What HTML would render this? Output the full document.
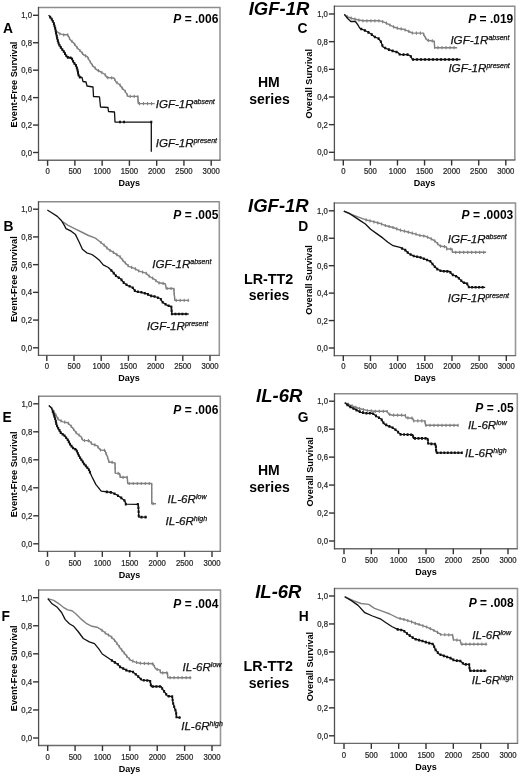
<!DOCTYPE html>
<html><head><meta charset="utf-8"><style>
html,body{margin:0;padding:0;background:#fff;width:520px;height:776px;overflow:hidden}
svg{display:block;font-family:"Liberation Sans", sans-serif;filter:grayscale(1) blur(0.3px)}
</style></head><body>
<svg width="520" height="776" viewBox="0 0 520 776">
<rect width="520" height="776" fill="#fff"/>
<line x1="37.90" y1="7.50" x2="220.60" y2="7.50" stroke="#8c8c8c" stroke-width="1.5"/>
<line x1="220.00" y1="7.50" x2="220.00" y2="160.30" stroke="#979797" stroke-width="1.6"/>
<line x1="37.90" y1="160.30" x2="220.60" y2="160.30" stroke="#6a6a6a" stroke-width="1.4"/>
<line x1="38.50" y1="6.90" x2="38.50" y2="160.90" stroke="#505050" stroke-width="1.3"/>
<line x1="33.00" y1="152.50" x2="38.50" y2="152.50" stroke="#333" stroke-width="1.4"/>
<text transform="translate(32.00,155.50) scale(0.9,1)" font-size="8.6" text-anchor="end" fill="#2a2a2a" stroke="#2a2a2a" stroke-width="0.25">0,0</text>
<line x1="33.00" y1="125.06" x2="38.50" y2="125.06" stroke="#333" stroke-width="1.4"/>
<text transform="translate(32.00,128.06) scale(0.9,1)" font-size="8.6" text-anchor="end" fill="#2a2a2a" stroke="#2a2a2a" stroke-width="0.25">0,2</text>
<line x1="33.00" y1="97.62" x2="38.50" y2="97.62" stroke="#333" stroke-width="1.4"/>
<text transform="translate(32.00,100.62) scale(0.9,1)" font-size="8.6" text-anchor="end" fill="#2a2a2a" stroke="#2a2a2a" stroke-width="0.25">0,4</text>
<line x1="33.00" y1="70.18" x2="38.50" y2="70.18" stroke="#333" stroke-width="1.4"/>
<text transform="translate(32.00,73.18) scale(0.9,1)" font-size="8.6" text-anchor="end" fill="#2a2a2a" stroke="#2a2a2a" stroke-width="0.25">0,6</text>
<line x1="33.00" y1="42.74" x2="38.50" y2="42.74" stroke="#333" stroke-width="1.4"/>
<text transform="translate(32.00,45.74) scale(0.9,1)" font-size="8.6" text-anchor="end" fill="#2a2a2a" stroke="#2a2a2a" stroke-width="0.25">0,8</text>
<line x1="33.00" y1="15.30" x2="38.50" y2="15.30" stroke="#333" stroke-width="1.4"/>
<text transform="translate(32.00,18.30) scale(0.9,1)" font-size="8.6" text-anchor="end" fill="#2a2a2a" stroke="#2a2a2a" stroke-width="0.25">1,0</text>
<line x1="47.60" y1="160.30" x2="47.60" y2="165.80" stroke="#333" stroke-width="1.4"/>
<text transform="translate(47.60,174.00) scale(0.9,1)" font-size="8.6" text-anchor="middle" fill="#2a2a2a" stroke="#2a2a2a" stroke-width="0.25">0</text>
<line x1="74.87" y1="160.30" x2="74.87" y2="165.80" stroke="#333" stroke-width="1.4"/>
<text transform="translate(74.87,174.00) scale(0.9,1)" font-size="8.6" text-anchor="middle" fill="#2a2a2a" stroke="#2a2a2a" stroke-width="0.25">500</text>
<line x1="102.13" y1="160.30" x2="102.13" y2="165.80" stroke="#333" stroke-width="1.4"/>
<text transform="translate(102.13,174.00) scale(0.9,1)" font-size="8.6" text-anchor="middle" fill="#2a2a2a" stroke="#2a2a2a" stroke-width="0.25">1000</text>
<line x1="129.40" y1="160.30" x2="129.40" y2="165.80" stroke="#333" stroke-width="1.4"/>
<text transform="translate(129.40,174.00) scale(0.9,1)" font-size="8.6" text-anchor="middle" fill="#2a2a2a" stroke="#2a2a2a" stroke-width="0.25">1500</text>
<line x1="156.67" y1="160.30" x2="156.67" y2="165.80" stroke="#333" stroke-width="1.4"/>
<text transform="translate(156.67,174.00) scale(0.9,1)" font-size="8.6" text-anchor="middle" fill="#2a2a2a" stroke="#2a2a2a" stroke-width="0.25">2000</text>
<line x1="183.93" y1="160.30" x2="183.93" y2="165.80" stroke="#333" stroke-width="1.4"/>
<text transform="translate(183.93,174.00) scale(0.9,1)" font-size="8.6" text-anchor="middle" fill="#2a2a2a" stroke="#2a2a2a" stroke-width="0.25">2500</text>
<line x1="211.20" y1="160.30" x2="211.20" y2="165.80" stroke="#333" stroke-width="1.4"/>
<text transform="translate(211.20,174.00) scale(0.9,1)" font-size="8.6" text-anchor="middle" fill="#2a2a2a" stroke="#2a2a2a" stroke-width="0.25">3000</text>
<text x="129.25" y="186.00" font-size="9" font-weight="bold" text-anchor="middle" fill="#000">Days</text>
<text transform="translate(16.70,84.50) rotate(-90)" x="0" y="0" font-size="9.2" font-weight="bold" text-anchor="middle" fill="#000">Event-Free Survival</text>
<text x="218.40" y="22.89" font-size="12" font-weight="bold" text-anchor="end" fill="#000"><tspan font-style="italic">P</tspan> = .006</text>
<path d="M56.7,31.3 L59.6,33.7 L63.6,34.8 L67.7,34.8 L70.0,39.4 L74.0,43.5 L77.5,48.1 L80.9,51.5 L83.8,55.0 L87.3,56.7 L89.6,60.8 L92.5,65.4 L97.0,70.0 L101.0,72.0 L105.0,74.5 L107.0,77.5 L114.0,78.0 L116.0,82.0 L120.0,85.0 L122.0,88.0 L125.0,91.0 L127.0,94.5 L128.0,96.4 L137.8,96.4 L138.3,103.6 L154.7,103.6" fill="none" stroke="#808080" stroke-width="1.4" stroke-linejoin="round"/>
<path d="M59.8,32.2v3.2 M63.7,33.2v3.2 M67.7,33.2v3.2 M69.5,36.8v3.2 M72.0,39.8v3.2 M74.7,42.8v3.2 M77.1,46.0v3.2 M79.9,48.9v3.2 M82.5,51.8v3.2 M85.6,54.3v3.2 M88.3,56.9v3.2 M90.3,60.4v3.2 M92.5,63.8v3.2 M95.3,66.6v3.2 M98.4,69.1v3.2 M101.9,71.0v3.2 M105.2,73.2v3.2 M107.7,76.0v3.2 M111.7,76.2v3.2 M114.8,77.9v3.2 M117.0,81.1v3.2 M120.1,83.6v3.2 M122.4,86.8v3.2 M125.2,89.7v3.2 M127.2,93.2v3.2 M130.2,94.8v3.2 M134.2,94.8v3.2 M137.8,95.2v3.2 M138.1,99.2v3.2 M139.5,102.0v3.2 M143.5,102.0v3.2 M147.5,102.0v3.2 M151.5,102.0v3.2" stroke="#808080" stroke-width="1.1" fill="none"/>
<path d="M48.6,15.2 L51.5,18.7 L53.8,23.3 L55.5,29.6 L56.1,33.1 L57.3,38.8 L59.0,44.6 L61.3,48.1 L64.2,52.1 L67.1,57.3 L71.7,57.9 L73.4,61.9 L76.3,66.0 L77.5,70.0 L78.5,75.0 L79.5,77.0 L82.0,77.5 L83.0,81.5 L86.0,82.0 L87.0,86.0 L93.0,87.0 L93.5,96.5 L99.5,96.8 L100.0,102.0 L100.5,107.0 L108.0,107.5 L108.5,111.5 L114.5,112.0 L115.0,122.0 L151.3,122.1 L151.3,151.7" fill="none" stroke="#111" stroke-width="1.3" stroke-linejoin="round"/>
<path d="M49.2,15.8h2v2.6h-2z M50.7,17.8h2v2.6h-2z M51.8,20.0h2v2.6h-2z M52.9,22.3h2v2.6h-2z M53.5,24.7h2v2.6h-2z M54.2,27.1h2v2.6h-2z M54.7,29.6h2v2.6h-2z M55.1,32.0h2v2.6h-2z M55.7,34.5h2v2.6h-2z M56.2,36.9h2v2.6h-2z M56.8,39.3h2v2.6h-2z M57.5,41.7h2v2.6h-2z M58.5,44.0h2v2.6h-2z M59.8,46.1h2v2.6h-2z M61.3,48.2h2v2.6h-2z M62.8,50.2h2v2.6h-2z M64.0,52.3h2v2.6h-2z M65.3,54.5h2v2.6h-2z M66.9,56.1h2v2.6h-2z M69.4,56.4h2v2.6h-2z M71.1,57.7h2v2.6h-2z M72.1,60.0h2v2.6h-2z M73.4,62.1h2v2.6h-2z M74.9,64.1h2v2.6h-2z M75.8,66.4h2v2.6h-2z M76.5,68.8h2v2.6h-2z M77.0,71.2h2v2.6h-2z M77.5,73.7h2v2.6h-2z M78.8,75.8h2v2.6h-2z M119.0,120.7h2v2.6h-2z M123.0,120.7h2v2.6h-2z M150.3,120.7h2v2.6h-2z" fill="#111"/>
<text x="155.70" y="108.20" font-size="11.6" font-style="italic" fill="#111" stroke="#111" stroke-width="0.25">IGF-1R<tspan font-size="7" dy="-4">absent</tspan></text>
<text x="155.70" y="147.20" font-size="11.6" font-style="italic" fill="#111" stroke="#111" stroke-width="0.25">IGF-1R<tspan font-size="7" dy="-4">present</tspan></text>
<line x1="37.90" y1="201.80" x2="219.90" y2="201.80" stroke="#8c8c8c" stroke-width="1.5"/>
<line x1="219.30" y1="201.80" x2="219.30" y2="355.40" stroke="#979797" stroke-width="1.6"/>
<line x1="37.90" y1="355.40" x2="219.90" y2="355.40" stroke="#6a6a6a" stroke-width="1.4"/>
<line x1="38.50" y1="201.20" x2="38.50" y2="356.00" stroke="#505050" stroke-width="1.3"/>
<line x1="33.00" y1="347.80" x2="38.50" y2="347.80" stroke="#333" stroke-width="1.4"/>
<text transform="translate(32.00,350.80) scale(0.9,1)" font-size="8.6" text-anchor="end" fill="#2a2a2a" stroke="#2a2a2a" stroke-width="0.25">0,0</text>
<line x1="33.00" y1="320.08" x2="38.50" y2="320.08" stroke="#333" stroke-width="1.4"/>
<text transform="translate(32.00,323.08) scale(0.9,1)" font-size="8.6" text-anchor="end" fill="#2a2a2a" stroke="#2a2a2a" stroke-width="0.25">0,2</text>
<line x1="33.00" y1="292.36" x2="38.50" y2="292.36" stroke="#333" stroke-width="1.4"/>
<text transform="translate(32.00,295.36) scale(0.9,1)" font-size="8.6" text-anchor="end" fill="#2a2a2a" stroke="#2a2a2a" stroke-width="0.25">0,4</text>
<line x1="33.00" y1="264.64" x2="38.50" y2="264.64" stroke="#333" stroke-width="1.4"/>
<text transform="translate(32.00,267.64) scale(0.9,1)" font-size="8.6" text-anchor="end" fill="#2a2a2a" stroke="#2a2a2a" stroke-width="0.25">0,6</text>
<line x1="33.00" y1="236.92" x2="38.50" y2="236.92" stroke="#333" stroke-width="1.4"/>
<text transform="translate(32.00,239.92) scale(0.9,1)" font-size="8.6" text-anchor="end" fill="#2a2a2a" stroke="#2a2a2a" stroke-width="0.25">0,8</text>
<line x1="33.00" y1="209.20" x2="38.50" y2="209.20" stroke="#333" stroke-width="1.4"/>
<text transform="translate(32.00,212.20) scale(0.9,1)" font-size="8.6" text-anchor="end" fill="#2a2a2a" stroke="#2a2a2a" stroke-width="0.25">1,0</text>
<line x1="46.80" y1="355.40" x2="46.80" y2="360.90" stroke="#333" stroke-width="1.4"/>
<text transform="translate(46.80,369.26) scale(0.9,1)" font-size="8.6" text-anchor="middle" fill="#2a2a2a" stroke="#2a2a2a" stroke-width="0.25">0</text>
<line x1="74.00" y1="355.40" x2="74.00" y2="360.90" stroke="#333" stroke-width="1.4"/>
<text transform="translate(74.00,369.26) scale(0.9,1)" font-size="8.6" text-anchor="middle" fill="#2a2a2a" stroke="#2a2a2a" stroke-width="0.25">500</text>
<line x1="101.20" y1="355.40" x2="101.20" y2="360.90" stroke="#333" stroke-width="1.4"/>
<text transform="translate(101.20,369.26) scale(0.9,1)" font-size="8.6" text-anchor="middle" fill="#2a2a2a" stroke="#2a2a2a" stroke-width="0.25">1000</text>
<line x1="128.40" y1="355.40" x2="128.40" y2="360.90" stroke="#333" stroke-width="1.4"/>
<text transform="translate(128.40,369.26) scale(0.9,1)" font-size="8.6" text-anchor="middle" fill="#2a2a2a" stroke="#2a2a2a" stroke-width="0.25">1500</text>
<line x1="155.60" y1="355.40" x2="155.60" y2="360.90" stroke="#333" stroke-width="1.4"/>
<text transform="translate(155.60,369.26) scale(0.9,1)" font-size="8.6" text-anchor="middle" fill="#2a2a2a" stroke="#2a2a2a" stroke-width="0.25">2000</text>
<line x1="182.80" y1="355.40" x2="182.80" y2="360.90" stroke="#333" stroke-width="1.4"/>
<text transform="translate(182.80,369.26) scale(0.9,1)" font-size="8.6" text-anchor="middle" fill="#2a2a2a" stroke="#2a2a2a" stroke-width="0.25">2500</text>
<line x1="210.00" y1="355.40" x2="210.00" y2="360.90" stroke="#333" stroke-width="1.4"/>
<text transform="translate(210.00,369.26) scale(0.9,1)" font-size="8.6" text-anchor="middle" fill="#2a2a2a" stroke="#2a2a2a" stroke-width="0.25">3000</text>
<text x="128.90" y="381.30" font-size="9" font-weight="bold" text-anchor="middle" fill="#000">Days</text>
<text transform="translate(16.70,279.20) rotate(-90)" x="0" y="0" font-size="9.2" font-weight="bold" text-anchor="middle" fill="#000">Event-Free Survival</text>
<text x="218.40" y="218.69" font-size="12" font-weight="bold" text-anchor="end" fill="#000"><tspan font-style="italic">P</tspan> = .005</text>
<path d="M62.5,221.6 L67.7,225.1 L74.6,228.6 L81.5,232.0 L88.5,235.5 L95.4,238.1 L99.7,241.5 L104.0,245.0 L108.4,249.3 L112.7,251.9 L117.9,255.4 L120.0,256.7 L123.8,261.5 L128.7,266.3 L134.4,268.3 L139.2,271.2 L146.0,273.1 L148.8,276.0 L153.7,278.8 L158.5,282.7 L165.2,283.7 L166.2,288.5 L173.8,288.5 L174.8,300.4 L189.2,300.4" fill="none" stroke="#808080" stroke-width="1.4" stroke-linejoin="round"/>
<path d="M101.0,240.9v3.2 M104.1,243.5v3.2 M106.9,246.2v3.2 M110.0,248.7v3.2 M113.4,250.8v3.2 M116.8,253.0v3.2 M120.1,255.2v3.2 M122.6,258.4v3.2 M125.3,261.3v3.2 M128.1,264.1v3.2 M131.7,265.8v3.2 M135.4,267.3v3.2 M138.8,269.4v3.2 M142.6,270.6v3.2 M146.3,271.8v3.2 M149.2,274.6v3.2 M152.7,276.6v3.2 M155.9,279.0v3.2 M159.1,281.2v3.2 M163.1,281.8v3.2 M165.6,283.9v3.2 M167.1,286.9v3.2 M171.1,286.9v3.2 M173.9,288.2v3.2 M174.2,292.2v3.2 M174.6,296.2v3.2 M176.2,298.8v3.2 M180.2,298.8v3.2 M184.2,298.8v3.2 M188.2,298.8v3.2" stroke="#808080" stroke-width="1.1" fill="none"/>
<path d="M47.3,210.0 L52.1,213.0 L57.3,216.4 L61.6,220.8 L64.2,225.1 L66.0,228.6 L71.2,231.2 L75.5,234.6 L78.9,241.5 L82.4,249.3 L86.7,252.8 L91.9,254.5 L95.4,257.1 L99.7,260.6 L103.2,264.9 L108.4,267.5 L112.7,271.8 L116.2,276.1 L120.5,278.7 L123.8,282.7 L127.7,285.6 L132.5,287.5 L135.4,291.3 L141.2,292.3 L146.9,293.8 L150.8,295.8 L154.6,296.5 L160.4,298.5 L162.3,301.9 L166.2,304.8 L169.0,306.0 L171.3,306.3 L171.8,314.0 L188.7,314.0" fill="none" stroke="#111" stroke-width="1.3" stroke-linejoin="round"/>
<path d="M110.4,269.2h2v2.6h-2z M112.7,271.8h2v2.6h-2z M114.9,274.5h2v2.6h-2z M117.8,276.4h2v2.6h-2z M120.5,278.6h2v2.6h-2z M122.7,281.3h2v2.6h-2z M125.5,283.4h2v2.6h-2z M128.6,285.0h2v2.6h-2z M131.7,286.5h2v2.6h-2z M133.8,289.3h2v2.6h-2z M136.9,290.4h2v2.6h-2z M140.4,291.0h2v2.6h-2z M143.8,291.9h2v2.6h-2z M147.0,293.1h2v2.6h-2z M150.2,294.6h2v2.6h-2z M153.6,295.2h2v2.6h-2z M156.9,296.4h2v2.6h-2z M159.8,298.0h2v2.6h-2z M161.7,300.9h2v2.6h-2z M164.5,303.0h2v2.6h-2z M167.6,304.5h2v2.6h-2z M170.4,305.8h2v2.6h-2z M170.6,309.3h2v2.6h-2z M170.9,312.7h2v2.6h-2z M174.4,312.7h2v2.6h-2z M177.9,312.7h2v2.6h-2z M181.4,312.7h2v2.6h-2z M184.9,312.7h2v2.6h-2z" fill="#111"/>
<text x="152.30" y="268.30" font-size="11.6" font-style="italic" fill="#111" stroke="#111" stroke-width="0.25">IGF-1R<tspan font-size="7" dy="-4">absent</tspan></text>
<text x="146.90" y="329.80" font-size="11.6" font-style="italic" fill="#111" stroke="#111" stroke-width="0.25">IGF-1R<tspan font-size="7" dy="-4">present</tspan></text>
<line x1="38.10" y1="396.30" x2="220.90" y2="396.30" stroke="#8c8c8c" stroke-width="1.5"/>
<line x1="220.30" y1="396.30" x2="220.30" y2="551.40" stroke="#979797" stroke-width="1.6"/>
<line x1="38.10" y1="551.40" x2="220.90" y2="551.40" stroke="#6a6a6a" stroke-width="1.4"/>
<line x1="38.70" y1="395.70" x2="38.70" y2="552.00" stroke="#505050" stroke-width="1.3"/>
<line x1="33.20" y1="543.80" x2="38.70" y2="543.80" stroke="#333" stroke-width="1.4"/>
<text transform="translate(32.20,546.80) scale(0.9,1)" font-size="8.6" text-anchor="end" fill="#2a2a2a" stroke="#2a2a2a" stroke-width="0.25">0,0</text>
<line x1="33.20" y1="515.80" x2="38.70" y2="515.80" stroke="#333" stroke-width="1.4"/>
<text transform="translate(32.20,518.80) scale(0.9,1)" font-size="8.6" text-anchor="end" fill="#2a2a2a" stroke="#2a2a2a" stroke-width="0.25">0,2</text>
<line x1="33.20" y1="487.80" x2="38.70" y2="487.80" stroke="#333" stroke-width="1.4"/>
<text transform="translate(32.20,490.80) scale(0.9,1)" font-size="8.6" text-anchor="end" fill="#2a2a2a" stroke="#2a2a2a" stroke-width="0.25">0,4</text>
<line x1="33.20" y1="459.80" x2="38.70" y2="459.80" stroke="#333" stroke-width="1.4"/>
<text transform="translate(32.20,462.80) scale(0.9,1)" font-size="8.6" text-anchor="end" fill="#2a2a2a" stroke="#2a2a2a" stroke-width="0.25">0,6</text>
<line x1="33.20" y1="431.80" x2="38.70" y2="431.80" stroke="#333" stroke-width="1.4"/>
<text transform="translate(32.20,434.80) scale(0.9,1)" font-size="8.6" text-anchor="end" fill="#2a2a2a" stroke="#2a2a2a" stroke-width="0.25">0,8</text>
<line x1="33.20" y1="403.80" x2="38.70" y2="403.80" stroke="#333" stroke-width="1.4"/>
<text transform="translate(32.20,406.80) scale(0.9,1)" font-size="8.6" text-anchor="end" fill="#2a2a2a" stroke="#2a2a2a" stroke-width="0.25">1,0</text>
<line x1="47.50" y1="551.40" x2="47.50" y2="556.90" stroke="#333" stroke-width="1.4"/>
<text transform="translate(47.50,565.58) scale(0.9,1)" font-size="8.6" text-anchor="middle" fill="#2a2a2a" stroke="#2a2a2a" stroke-width="0.25">0</text>
<line x1="74.92" y1="551.40" x2="74.92" y2="556.90" stroke="#333" stroke-width="1.4"/>
<text transform="translate(74.92,565.58) scale(0.9,1)" font-size="8.6" text-anchor="middle" fill="#2a2a2a" stroke="#2a2a2a" stroke-width="0.25">500</text>
<line x1="102.33" y1="551.40" x2="102.33" y2="556.90" stroke="#333" stroke-width="1.4"/>
<text transform="translate(102.33,565.58) scale(0.9,1)" font-size="8.6" text-anchor="middle" fill="#2a2a2a" stroke="#2a2a2a" stroke-width="0.25">1000</text>
<line x1="129.75" y1="551.40" x2="129.75" y2="556.90" stroke="#333" stroke-width="1.4"/>
<text transform="translate(129.75,565.58) scale(0.9,1)" font-size="8.6" text-anchor="middle" fill="#2a2a2a" stroke="#2a2a2a" stroke-width="0.25">1500</text>
<line x1="157.17" y1="551.40" x2="157.17" y2="556.90" stroke="#333" stroke-width="1.4"/>
<text transform="translate(157.17,565.58) scale(0.9,1)" font-size="8.6" text-anchor="middle" fill="#2a2a2a" stroke="#2a2a2a" stroke-width="0.25">2000</text>
<line x1="184.58" y1="551.40" x2="184.58" y2="556.90" stroke="#333" stroke-width="1.4"/>
<text transform="translate(184.58,565.58) scale(0.9,1)" font-size="8.6" text-anchor="middle" fill="#2a2a2a" stroke="#2a2a2a" stroke-width="0.25">2500</text>
<line x1="212.00" y1="551.40" x2="212.00" y2="556.90" stroke="#333" stroke-width="1.4"/>
<text transform="translate(212.00,565.58) scale(0.9,1)" font-size="8.6" text-anchor="middle" fill="#2a2a2a" stroke="#2a2a2a" stroke-width="0.25">3000</text>
<text x="129.50" y="577.70" font-size="9" font-weight="bold" text-anchor="middle" fill="#000">Days</text>
<text transform="translate(16.70,474.45) rotate(-90)" x="0" y="0" font-size="9.2" font-weight="bold" text-anchor="middle" fill="#000">Event-Free Survival</text>
<text x="218.40" y="414.09" font-size="12" font-weight="bold" text-anchor="end" fill="#000"><tspan font-style="italic">P</tspan> = .006</text>
<path d="M48.9,405.5 L52.3,408.8 L55.4,414.2 L58.5,419.6 L63.1,421.9 L67.7,422.7 L70.8,425.8 L73.8,429.6 L76.9,433.5 L80.8,436.5 L83.1,440.4 L89.2,440.8 L92.3,444.2 L95.0,445.0 L97.3,445.8 L98.5,447.7 L100.4,450.0 L105.0,450.4 L105.8,453.1 L107.3,456.2 L108.1,459.2 L109.2,462.3 L112.7,462.3 L115.0,463.1 L115.3,473.1 L119.6,473.5 L120.4,477.3 L127.3,477.3 L127.7,483.5 L151.7,483.5 L151.7,503.7 L156.0,503.7" fill="none" stroke="#808080" stroke-width="1.4" stroke-linejoin="round"/>
<path d="M51.8,406.7v3.2 M53.9,410.0v3.2 M55.9,413.5v3.2 M57.9,417.0v3.2 M61.0,419.3v3.2 M64.7,420.6v3.2 M68.4,421.8v3.2 M71.2,424.7v3.2 M73.7,427.8v3.2 M76.1,431.0v3.2 M79.1,433.6v3.2 M81.7,436.5v3.2 M84.4,438.9v3.2 M88.4,439.1v3.2 M91.4,441.6v3.2 M94.8,443.3v3.2 M98.0,445.4v3.2 M100.5,448.4v3.2 M104.5,448.8v3.2 M106.1,452.1v3.2 M107.6,455.8v3.2 M108.8,459.6v3.2 M112.1,460.7v3.2 M115.0,462.4v3.2 M115.1,466.4v3.2 M115.3,470.4v3.2 M118.2,471.8v3.2 M120.1,474.5v3.2 M123.1,475.7v3.2 M127.1,475.7v3.2 M127.5,479.5v3.2 M129.3,481.9v3.2 M133.3,481.9v3.2 M137.3,481.9v3.2 M141.3,481.9v3.2 M145.3,481.9v3.2 M149.3,481.9v3.2 M151.7,483.5v3.2 M151.7,487.5v3.2 M151.7,491.5v3.2 M151.7,495.5v3.2 M151.7,499.5v3.2 M153.1,502.1v3.2" stroke="#808080" stroke-width="1.1" fill="none"/>
<path d="M48.9,405.5 L51.5,408.1 L53.5,413.5 L55.4,419.6 L56.6,425.0 L58.5,428.8 L60.8,432.7 L64.6,435.8 L67.7,439.6 L70.0,444.2 L73.1,448.1 L76.2,449.6 L78.5,455.0 L80.8,458.8 L83.8,463.5 L87.7,468.1 L89.0,470.0 L91.7,476.3 L95.8,484.4 L101.2,491.2 L111.9,492.5 L117.3,495.2 L121.3,497.9 L124.8,500.8 L125.8,504.1 L138.3,504.3 L138.8,517.1 L146.9,517.1" fill="none" stroke="#111" stroke-width="1.3" stroke-linejoin="round"/>
<path d="M51.8,410.4h2v2.6h-2z M52.7,412.7h2v2.6h-2z M53.4,415.1h2v2.6h-2z M54.2,417.5h2v2.6h-2z M54.8,419.9h2v2.6h-2z M55.3,422.4h2v2.6h-2z M56.1,424.7h2v2.6h-2z M57.2,427.0h2v2.6h-2z M58.5,429.1h2v2.6h-2z M59.7,431.3h2v2.6h-2z M61.6,432.9h2v2.6h-2z M63.6,434.5h2v2.6h-2z M65.2,436.4h2v2.6h-2z M66.7,438.4h2v2.6h-2z M67.8,440.6h2v2.6h-2z M69.0,442.8h2v2.6h-2z M70.5,444.8h2v2.6h-2z M72.1,446.7h2v2.6h-2z M74.3,447.9h2v2.6h-2z M75.8,449.7h2v2.6h-2z M76.8,452.0h2v2.6h-2z M77.8,454.2h2v2.6h-2z M79.1,456.4h2v2.6h-2z M80.4,458.5h2v2.6h-2z M81.8,460.6h2v2.6h-2z M83.2,462.7h2v2.6h-2z M84.8,464.6h2v2.6h-2z M86.4,466.5h2v2.6h-2z M87.9,468.5h2v2.6h-2z M88.9,470.8h2v2.6h-2z M105.8,490.6h2v2.6h-2z M109.8,491.1h2v2.6h-2z M113.5,492.5h2v2.6h-2z M117.0,494.4h2v2.6h-2z M120.3,496.6h2v2.6h-2z M123.4,499.2h2v2.6h-2z M124.8,502.8h2v2.6h-2z M136.8,503.0h2v2.6h-2z M137.4,506.5h2v2.6h-2z M137.6,510.5h2v2.6h-2z M137.7,514.5h2v2.6h-2z M140.5,515.8h2v2.6h-2z M144.5,515.8h2v2.6h-2z" fill="#111"/>
<text x="167.60" y="503.20" font-size="11.6" font-style="italic" fill="#111" stroke="#111" stroke-width="0.25">IL-6R<tspan font-size="7" dy="-4">low</tspan></text>
<text x="165.50" y="524.70" font-size="11.6" font-style="italic" fill="#111" stroke="#111" stroke-width="0.25">IL-6R<tspan font-size="7" dy="-4">high</tspan></text>
<line x1="38.00" y1="590.00" x2="221.10" y2="590.00" stroke="#8c8c8c" stroke-width="1.5"/>
<line x1="220.50" y1="590.00" x2="220.50" y2="745.50" stroke="#979797" stroke-width="1.6"/>
<line x1="38.00" y1="745.50" x2="221.10" y2="745.50" stroke="#6a6a6a" stroke-width="1.4"/>
<line x1="38.60" y1="589.40" x2="38.60" y2="746.10" stroke="#505050" stroke-width="1.3"/>
<line x1="33.10" y1="738.00" x2="38.60" y2="738.00" stroke="#333" stroke-width="1.4"/>
<text transform="translate(32.10,741.00) scale(0.9,1)" font-size="8.6" text-anchor="end" fill="#2a2a2a" stroke="#2a2a2a" stroke-width="0.25">0,0</text>
<line x1="33.10" y1="709.94" x2="38.60" y2="709.94" stroke="#333" stroke-width="1.4"/>
<text transform="translate(32.10,712.94) scale(0.9,1)" font-size="8.6" text-anchor="end" fill="#2a2a2a" stroke="#2a2a2a" stroke-width="0.25">0,2</text>
<line x1="33.10" y1="681.88" x2="38.60" y2="681.88" stroke="#333" stroke-width="1.4"/>
<text transform="translate(32.10,684.88) scale(0.9,1)" font-size="8.6" text-anchor="end" fill="#2a2a2a" stroke="#2a2a2a" stroke-width="0.25">0,4</text>
<line x1="33.10" y1="653.82" x2="38.60" y2="653.82" stroke="#333" stroke-width="1.4"/>
<text transform="translate(32.10,656.82) scale(0.9,1)" font-size="8.6" text-anchor="end" fill="#2a2a2a" stroke="#2a2a2a" stroke-width="0.25">0,6</text>
<line x1="33.10" y1="625.76" x2="38.60" y2="625.76" stroke="#333" stroke-width="1.4"/>
<text transform="translate(32.10,628.76) scale(0.9,1)" font-size="8.6" text-anchor="end" fill="#2a2a2a" stroke="#2a2a2a" stroke-width="0.25">0,8</text>
<line x1="33.10" y1="597.70" x2="38.60" y2="597.70" stroke="#333" stroke-width="1.4"/>
<text transform="translate(32.10,600.70) scale(0.9,1)" font-size="8.6" text-anchor="end" fill="#2a2a2a" stroke="#2a2a2a" stroke-width="0.25">1,0</text>
<line x1="47.70" y1="745.50" x2="47.70" y2="751.00" stroke="#333" stroke-width="1.4"/>
<text transform="translate(47.70,759.68) scale(0.9,1)" font-size="8.6" text-anchor="middle" fill="#2a2a2a" stroke="#2a2a2a" stroke-width="0.25">0</text>
<line x1="75.08" y1="745.50" x2="75.08" y2="751.00" stroke="#333" stroke-width="1.4"/>
<text transform="translate(75.08,759.68) scale(0.9,1)" font-size="8.6" text-anchor="middle" fill="#2a2a2a" stroke="#2a2a2a" stroke-width="0.25">500</text>
<line x1="102.47" y1="745.50" x2="102.47" y2="751.00" stroke="#333" stroke-width="1.4"/>
<text transform="translate(102.47,759.68) scale(0.9,1)" font-size="8.6" text-anchor="middle" fill="#2a2a2a" stroke="#2a2a2a" stroke-width="0.25">1000</text>
<line x1="129.85" y1="745.50" x2="129.85" y2="751.00" stroke="#333" stroke-width="1.4"/>
<text transform="translate(129.85,759.68) scale(0.9,1)" font-size="8.6" text-anchor="middle" fill="#2a2a2a" stroke="#2a2a2a" stroke-width="0.25">1500</text>
<line x1="157.23" y1="745.50" x2="157.23" y2="751.00" stroke="#333" stroke-width="1.4"/>
<text transform="translate(157.23,759.68) scale(0.9,1)" font-size="8.6" text-anchor="middle" fill="#2a2a2a" stroke="#2a2a2a" stroke-width="0.25">2000</text>
<line x1="184.62" y1="745.50" x2="184.62" y2="751.00" stroke="#333" stroke-width="1.4"/>
<text transform="translate(184.62,759.68) scale(0.9,1)" font-size="8.6" text-anchor="middle" fill="#2a2a2a" stroke="#2a2a2a" stroke-width="0.25">2500</text>
<line x1="212.00" y1="745.50" x2="212.00" y2="751.00" stroke="#333" stroke-width="1.4"/>
<text transform="translate(212.00,759.68) scale(0.9,1)" font-size="8.6" text-anchor="middle" fill="#2a2a2a" stroke="#2a2a2a" stroke-width="0.25">3000</text>
<text x="129.55" y="771.80" font-size="9" font-weight="bold" text-anchor="middle" fill="#000">Days</text>
<text transform="translate(16.70,668.35) rotate(-90)" x="0" y="0" font-size="9.2" font-weight="bold" text-anchor="middle" fill="#000">Event-Free Survival</text>
<text x="218.40" y="608.49" font-size="12" font-weight="bold" text-anchor="end" fill="#000"><tspan font-style="italic">P</tspan> = .004</text>
<path d="M47.8,598.7 L53.8,600.4 L59.0,603.8 L63.4,607.3 L67.7,609.9 L72.0,610.8 L76.3,614.2 L81.5,619.4 L86.7,623.7 L91.9,626.3 L97.1,627.2 L101.4,629.8 L105.8,633.3 L111.0,636.7 L115.3,641.1 L120.0,647.7 L123.8,652.5 L127.7,657.3 L130.6,660.2 L135.4,662.1 L140.0,663.2 L153.2,663.8 L154.0,666.0 L155.9,669.0 L160.1,670.1 L160.6,672.8 L167.5,672.8 L167.7,677.7 L191.3,677.7" fill="none" stroke="#808080" stroke-width="1.4" stroke-linejoin="round"/>
<path d="M102.0,628.7v3.2 M105.2,631.2v3.2 M108.5,633.4v3.2 M111.7,635.8v3.2 M114.5,638.7v3.2 M116.9,641.8v3.2 M119.3,645.1v3.2 M121.7,648.2v3.2 M124.2,651.4v3.2 M126.7,654.5v3.2 M129.4,657.4v3.2 M132.8,659.5v3.2 M136.5,660.8v3.2 M140.4,661.6v3.2 M144.4,661.8v3.2 M148.4,662.0v3.2 M152.4,662.2v3.2 M154.5,665.1v3.2 M157.2,667.7v3.2 M160.3,669.5v3.2 M162.8,671.2v3.2 M166.8,671.2v3.2 M167.6,674.5v3.2 M170.1,676.1v3.2 M174.1,676.1v3.2 M178.1,676.1v3.2 M182.1,676.1v3.2 M186.1,676.1v3.2 M190.1,676.1v3.2" stroke="#808080" stroke-width="1.1" fill="none"/>
<path d="M47.8,598.7 L52.1,603.8 L57.3,607.3 L61.6,612.5 L65.1,619.4 L69.4,623.7 L73.7,626.3 L78.1,631.5 L83.3,638.5 L89.3,641.9 L94.5,643.7 L98.8,648.8 L102.3,654.0 L107.5,657.5 L112.7,661.0 L117.9,664.4 L120.0,666.9 L123.8,668.8 L127.7,670.8 L132.5,671.7 L136.3,674.6 L140.2,678.5 L142.1,680.2 L150.1,680.7 L151.1,686.5 L161.2,686.5 L162.8,689.7 L164.9,692.3 L167.5,696.0 L172.3,696.6 L172.8,701.9 L174.4,707.7 L176.0,711.4 L176.5,717.4 L180.7,717.6" fill="none" stroke="#111" stroke-width="1.3" stroke-linejoin="round"/>
<path d="M110.9,659.2h2v2.6h-2z M113.8,661.1h2v2.6h-2z M116.8,663.0h2v2.6h-2z M119.1,665.6h2v2.6h-2z M122.2,667.2h2v2.6h-2z M125.3,668.8h2v2.6h-2z M128.6,669.9h2v2.6h-2z M132.0,670.7h2v2.6h-2z M134.7,672.9h2v2.6h-2z M137.3,675.3h2v2.6h-2z M139.8,677.7h2v2.6h-2z M142.8,679.0h2v2.6h-2z M146.3,679.2h2v2.6h-2z M149.2,680.1h2v2.6h-2z M149.8,683.5h2v2.6h-2z M151.9,685.2h2v2.6h-2z M155.4,685.2h2v2.6h-2z M158.9,685.2h2v2.6h-2z M161.2,687.2h2v2.6h-2z M163.1,690.1h2v2.6h-2z M165.2,692.9h2v2.6h-2z M167.8,694.9h2v2.6h-2z M171.2,695.3h2v2.6h-2z M171.6,698.7h2v2.6h-2z M172.2,702.2h2v2.6h-2z M173.2,705.5h2v2.6h-2z M174.4,708.8h2v2.6h-2z M175.2,712.2h2v2.6h-2z M175.5,715.7h2v2.6h-2z M178.5,716.2h2v2.6h-2z" fill="#111"/>
<text x="182.50" y="671.20" font-size="11.6" font-style="italic" fill="#111" stroke="#111" stroke-width="0.25">IL-6R<tspan font-size="7" dy="-4">low</tspan></text>
<text x="181.20" y="730.40" font-size="11.6" font-style="italic" fill="#111" stroke="#111" stroke-width="0.25">IL-6R<tspan font-size="7" dy="-4">high</tspan></text>
<line x1="333.80" y1="6.20" x2="515.40" y2="6.20" stroke="#8c8c8c" stroke-width="1.5"/>
<line x1="514.80" y1="6.20" x2="514.80" y2="160.00" stroke="#979797" stroke-width="1.6"/>
<line x1="333.80" y1="160.00" x2="515.40" y2="160.00" stroke="#6a6a6a" stroke-width="1.4"/>
<line x1="334.40" y1="5.60" x2="334.40" y2="160.60" stroke="#505050" stroke-width="1.3"/>
<line x1="328.90" y1="152.30" x2="334.40" y2="152.30" stroke="#333" stroke-width="1.4"/>
<text transform="translate(327.90,155.30) scale(0.9,1)" font-size="8.6" text-anchor="end" fill="#2a2a2a" stroke="#2a2a2a" stroke-width="0.25">0,0</text>
<line x1="328.90" y1="124.64" x2="334.40" y2="124.64" stroke="#333" stroke-width="1.4"/>
<text transform="translate(327.90,127.64) scale(0.9,1)" font-size="8.6" text-anchor="end" fill="#2a2a2a" stroke="#2a2a2a" stroke-width="0.25">0,2</text>
<line x1="328.90" y1="96.98" x2="334.40" y2="96.98" stroke="#333" stroke-width="1.4"/>
<text transform="translate(327.90,99.98) scale(0.9,1)" font-size="8.6" text-anchor="end" fill="#2a2a2a" stroke="#2a2a2a" stroke-width="0.25">0,4</text>
<line x1="328.90" y1="69.32" x2="334.40" y2="69.32" stroke="#333" stroke-width="1.4"/>
<text transform="translate(327.90,72.32) scale(0.9,1)" font-size="8.6" text-anchor="end" fill="#2a2a2a" stroke="#2a2a2a" stroke-width="0.25">0,6</text>
<line x1="328.90" y1="41.66" x2="334.40" y2="41.66" stroke="#333" stroke-width="1.4"/>
<text transform="translate(327.90,44.66) scale(0.9,1)" font-size="8.6" text-anchor="end" fill="#2a2a2a" stroke="#2a2a2a" stroke-width="0.25">0,8</text>
<line x1="328.90" y1="14.00" x2="334.40" y2="14.00" stroke="#333" stroke-width="1.4"/>
<text transform="translate(327.90,17.00) scale(0.9,1)" font-size="8.6" text-anchor="end" fill="#2a2a2a" stroke="#2a2a2a" stroke-width="0.25">1,0</text>
<line x1="343.30" y1="160.00" x2="343.30" y2="165.50" stroke="#333" stroke-width="1.4"/>
<text transform="translate(343.30,173.70) scale(0.9,1)" font-size="8.6" text-anchor="middle" fill="#2a2a2a" stroke="#2a2a2a" stroke-width="0.25">0</text>
<line x1="370.38" y1="160.00" x2="370.38" y2="165.50" stroke="#333" stroke-width="1.4"/>
<text transform="translate(370.38,173.70) scale(0.9,1)" font-size="8.6" text-anchor="middle" fill="#2a2a2a" stroke="#2a2a2a" stroke-width="0.25">500</text>
<line x1="397.47" y1="160.00" x2="397.47" y2="165.50" stroke="#333" stroke-width="1.4"/>
<text transform="translate(397.47,173.70) scale(0.9,1)" font-size="8.6" text-anchor="middle" fill="#2a2a2a" stroke="#2a2a2a" stroke-width="0.25">1000</text>
<line x1="424.55" y1="160.00" x2="424.55" y2="165.50" stroke="#333" stroke-width="1.4"/>
<text transform="translate(424.55,173.70) scale(0.9,1)" font-size="8.6" text-anchor="middle" fill="#2a2a2a" stroke="#2a2a2a" stroke-width="0.25">1500</text>
<line x1="451.63" y1="160.00" x2="451.63" y2="165.50" stroke="#333" stroke-width="1.4"/>
<text transform="translate(451.63,173.70) scale(0.9,1)" font-size="8.6" text-anchor="middle" fill="#2a2a2a" stroke="#2a2a2a" stroke-width="0.25">2000</text>
<line x1="478.72" y1="160.00" x2="478.72" y2="165.50" stroke="#333" stroke-width="1.4"/>
<text transform="translate(478.72,173.70) scale(0.9,1)" font-size="8.6" text-anchor="middle" fill="#2a2a2a" stroke="#2a2a2a" stroke-width="0.25">2500</text>
<line x1="505.80" y1="160.00" x2="505.80" y2="165.50" stroke="#333" stroke-width="1.4"/>
<text transform="translate(505.80,173.70) scale(0.9,1)" font-size="8.6" text-anchor="middle" fill="#2a2a2a" stroke="#2a2a2a" stroke-width="0.25">3000</text>
<text x="424.60" y="185.70" font-size="9" font-weight="bold" text-anchor="middle" fill="#000">Days</text>
<text transform="translate(312.40,83.70) rotate(-90)" x="0" y="0" font-size="9.2" font-weight="bold" text-anchor="middle" fill="#000">Overall Survival</text>
<text x="513.30" y="22.59" font-size="12" font-weight="bold" text-anchor="end" fill="#000"><tspan font-style="italic">P</tspan> = .019</text>
<path d="M344.3,14.3 L347.7,17.0 L352.3,18.5 L358.5,20.0 L363.0,20.8 L380.0,20.8 L384.6,22.3 L389.2,24.6 L393.8,27.0 L398.5,28.5 L403.0,29.2 L407.7,30.8 L412.3,33.0 L413.0,33.1 L423.1,33.1 L425.1,37.2 L427.2,40.2 L434.3,41.2 L434.6,47.7 L457.0,47.7" fill="none" stroke="#808080" stroke-width="1.4" stroke-linejoin="round"/>
<path d="M347.4,15.2v3.2 M351.2,16.5v3.2 M355.0,17.6v3.2 M358.9,18.5v3.2 M362.9,19.2v3.2 M366.9,19.2v3.2 M370.9,19.2v3.2 M374.9,19.2v3.2 M378.9,19.2v3.2 M382.7,20.1v3.2 M386.4,21.6v3.2 M390.0,23.4v3.2 M393.5,25.3v3.2 M397.3,26.5v3.2 M401.2,27.3v3.2 M405.1,28.3v3.2 M408.8,29.7v3.2 M412.4,31.4v3.2 M416.4,31.5v3.2 M420.4,31.5v3.2 M423.7,32.7v3.2 M425.5,36.2v3.2 M428.3,38.8v3.2 M432.3,39.3v3.2 M434.4,41.5v3.2 M434.6,45.5v3.2 M438.0,46.1v3.2 M442.0,46.1v3.2 M446.0,46.1v3.2 M450.0,46.1v3.2 M454.0,46.1v3.2" stroke="#808080" stroke-width="1.1" fill="none"/>
<path d="M344.3,14.3 L347.7,18.5 L350.8,21.5 L355.4,21.5 L357.7,24.6 L360.0,28.5 L363.0,29.7 L367.0,31.5 L370.8,33.8 L374.6,36.9 L378.5,38.5 L380.8,41.5 L383.0,47.0 L387.7,49.2 L392.3,50.8 L397.7,52.3 L400.0,54.6 L407.7,54.6 L410.8,56.2 L412.3,59.5 L460.5,59.5" fill="none" stroke="#111" stroke-width="1.3" stroke-linejoin="round"/>
<path d="M360.2,27.7h2v2.6h-2z M363.9,29.2h2v2.6h-2z M367.4,31.1h2v2.6h-2z M370.8,33.3h2v2.6h-2z M373.9,35.7h2v2.6h-2z M377.6,37.3h2v2.6h-2z M379.9,40.5h2v2.6h-2z M381.4,44.2h2v2.6h-2z M384.2,46.7h2v2.6h-2z M387.9,48.3h2v2.6h-2z M391.6,49.6h2v2.6h-2z M395.5,50.7h2v2.6h-2z M398.6,52.9h2v2.6h-2z M402.5,53.3h2v2.6h-2z M406.5,53.3h2v2.6h-2z M409.9,55.2h2v2.6h-2z M412.0,58.2h2v2.6h-2z M416.0,58.2h2v2.6h-2z M420.0,58.2h2v2.6h-2z M424.0,58.2h2v2.6h-2z M428.0,58.2h2v2.6h-2z M432.0,58.2h2v2.6h-2z M436.0,58.2h2v2.6h-2z M440.0,58.2h2v2.6h-2z M444.0,58.2h2v2.6h-2z M448.0,58.2h2v2.6h-2z M452.0,58.2h2v2.6h-2z M456.0,58.2h2v2.6h-2z" fill="#111"/>
<text x="450.40" y="43.80" font-size="11.6" font-style="italic" fill="#111" stroke="#111" stroke-width="0.25">IGF-1R<tspan font-size="7" dy="-4">absent</tspan></text>
<text x="448.40" y="71.50" font-size="11.6" font-style="italic" fill="#111" stroke="#111" stroke-width="0.25">IGF-1R<tspan font-size="7" dy="-4">present</tspan></text>
<line x1="333.70" y1="203.00" x2="516.10" y2="203.00" stroke="#8c8c8c" stroke-width="1.5"/>
<line x1="515.50" y1="203.00" x2="515.50" y2="355.60" stroke="#979797" stroke-width="1.6"/>
<line x1="333.70" y1="355.60" x2="516.10" y2="355.60" stroke="#6a6a6a" stroke-width="1.4"/>
<line x1="334.30" y1="202.40" x2="334.30" y2="356.20" stroke="#505050" stroke-width="1.3"/>
<line x1="328.80" y1="348.00" x2="334.30" y2="348.00" stroke="#333" stroke-width="1.4"/>
<text transform="translate(327.80,351.00) scale(0.9,1)" font-size="8.6" text-anchor="end" fill="#2a2a2a" stroke="#2a2a2a" stroke-width="0.25">0,0</text>
<line x1="328.80" y1="320.56" x2="334.30" y2="320.56" stroke="#333" stroke-width="1.4"/>
<text transform="translate(327.80,323.56) scale(0.9,1)" font-size="8.6" text-anchor="end" fill="#2a2a2a" stroke="#2a2a2a" stroke-width="0.25">0,2</text>
<line x1="328.80" y1="293.12" x2="334.30" y2="293.12" stroke="#333" stroke-width="1.4"/>
<text transform="translate(327.80,296.12) scale(0.9,1)" font-size="8.6" text-anchor="end" fill="#2a2a2a" stroke="#2a2a2a" stroke-width="0.25">0,4</text>
<line x1="328.80" y1="265.68" x2="334.30" y2="265.68" stroke="#333" stroke-width="1.4"/>
<text transform="translate(327.80,268.68) scale(0.9,1)" font-size="8.6" text-anchor="end" fill="#2a2a2a" stroke="#2a2a2a" stroke-width="0.25">0,6</text>
<line x1="328.80" y1="238.24" x2="334.30" y2="238.24" stroke="#333" stroke-width="1.4"/>
<text transform="translate(327.80,241.24) scale(0.9,1)" font-size="8.6" text-anchor="end" fill="#2a2a2a" stroke="#2a2a2a" stroke-width="0.25">0,8</text>
<line x1="328.80" y1="210.80" x2="334.30" y2="210.80" stroke="#333" stroke-width="1.4"/>
<text transform="translate(327.80,213.80) scale(0.9,1)" font-size="8.6" text-anchor="end" fill="#2a2a2a" stroke="#2a2a2a" stroke-width="0.25">1,0</text>
<line x1="343.30" y1="355.60" x2="343.30" y2="361.10" stroke="#333" stroke-width="1.4"/>
<text transform="translate(343.30,369.30) scale(0.9,1)" font-size="8.6" text-anchor="middle" fill="#2a2a2a" stroke="#2a2a2a" stroke-width="0.25">0</text>
<line x1="370.47" y1="355.60" x2="370.47" y2="361.10" stroke="#333" stroke-width="1.4"/>
<text transform="translate(370.47,369.30) scale(0.9,1)" font-size="8.6" text-anchor="middle" fill="#2a2a2a" stroke="#2a2a2a" stroke-width="0.25">500</text>
<line x1="397.63" y1="355.60" x2="397.63" y2="361.10" stroke="#333" stroke-width="1.4"/>
<text transform="translate(397.63,369.30) scale(0.9,1)" font-size="8.6" text-anchor="middle" fill="#2a2a2a" stroke="#2a2a2a" stroke-width="0.25">1000</text>
<line x1="424.80" y1="355.60" x2="424.80" y2="361.10" stroke="#333" stroke-width="1.4"/>
<text transform="translate(424.80,369.30) scale(0.9,1)" font-size="8.6" text-anchor="middle" fill="#2a2a2a" stroke="#2a2a2a" stroke-width="0.25">1500</text>
<line x1="451.97" y1="355.60" x2="451.97" y2="361.10" stroke="#333" stroke-width="1.4"/>
<text transform="translate(451.97,369.30) scale(0.9,1)" font-size="8.6" text-anchor="middle" fill="#2a2a2a" stroke="#2a2a2a" stroke-width="0.25">2000</text>
<line x1="479.13" y1="355.60" x2="479.13" y2="361.10" stroke="#333" stroke-width="1.4"/>
<text transform="translate(479.13,369.30) scale(0.9,1)" font-size="8.6" text-anchor="middle" fill="#2a2a2a" stroke="#2a2a2a" stroke-width="0.25">2500</text>
<line x1="506.30" y1="355.60" x2="506.30" y2="361.10" stroke="#333" stroke-width="1.4"/>
<text transform="translate(506.30,369.30) scale(0.9,1)" font-size="8.6" text-anchor="middle" fill="#2a2a2a" stroke="#2a2a2a" stroke-width="0.25">3000</text>
<text x="424.90" y="381.30" font-size="9" font-weight="bold" text-anchor="middle" fill="#000">Days</text>
<text transform="translate(312.30,279.90) rotate(-90)" x="0" y="0" font-size="9.2" font-weight="bold" text-anchor="middle" fill="#000">Overall Survival</text>
<text x="513.30" y="219.09" font-size="12" font-weight="bold" text-anchor="end" fill="#000"><tspan font-style="italic">P</tspan> = .0003</text>
<path d="M343.8,211.1 L351.6,214.5 L358.5,217.1 L365.4,219.7 L372.3,221.4 L379.3,223.2 L386.2,225.8 L393.1,227.5 L400.0,230.1 L407.0,231.8 L413.9,233.6 L419.8,235.4 L425.6,236.3 L430.4,238.3 L435.2,241.2 L440.0,246.0 L446.5,247.0 L446.7,249.0 L452.2,249.0 L452.5,252.3 L486.2,252.3" fill="none" stroke="#808080" stroke-width="1.4" stroke-linejoin="round"/>
<path d="M366.1,218.3v3.2 M370.0,219.2v3.2 M373.9,220.2v3.2 M377.8,221.2v3.2 M381.6,222.4v3.2 M385.3,223.9v3.2 M389.1,224.9v3.2 M393.0,225.9v3.2 M396.8,227.3v3.2 M400.5,228.6v3.2 M404.4,229.6v3.2 M408.3,230.5v3.2 M412.2,231.6v3.2 M416.0,232.6v3.2 M419.9,233.8v3.2 M423.8,234.4v3.2 M427.6,235.5v3.2 M431.2,237.2v3.2 M434.7,239.3v3.2 M437.6,242.0v3.2 M440.6,244.5v3.2 M444.5,245.1v3.2 M446.7,247.4v3.2 M450.7,247.4v3.2 M452.4,249.9v3.2 M455.7,250.7v3.2 M459.7,250.7v3.2 M463.7,250.7v3.2 M467.7,250.7v3.2 M471.7,250.7v3.2 M475.7,250.7v3.2 M479.7,250.7v3.2 M483.7,250.7v3.2" stroke="#808080" stroke-width="1.1" fill="none"/>
<path d="M343.8,211.1 L349.8,213.7 L355.0,217.1 L360.2,220.6 L365.4,224.0 L370.6,229.2 L376.7,233.6 L382.7,237.9 L387.9,242.2 L393.1,245.7 L400.0,247.4 L405.2,250.0 L408.7,253.5 L413.9,256.1 L420.8,257.5 L425.6,259.4 L430.4,261.3 L434.3,266.2 L437.2,269.0 L441.0,271.0 L449.7,271.5 L452.5,274.8 L457.3,276.7 L460.2,279.6 L463.1,282.5 L467.0,283.5 L468.9,287.3 L485.2,287.3" fill="none" stroke="#111" stroke-width="1.3" stroke-linejoin="round"/>
<path d="M401.1,247.2h2v2.6h-2z M404.3,248.8h2v2.6h-2z M406.7,251.2h2v2.6h-2z M409.6,253.2h2v2.6h-2z M412.7,254.7h2v2.6h-2z M416.1,255.5h2v2.6h-2z M419.6,256.2h2v2.6h-2z M422.8,257.4h2v2.6h-2z M426.1,258.7h2v2.6h-2z M429.3,260.0h2v2.6h-2z M431.5,262.7h2v2.6h-2z M433.8,265.4h2v2.6h-2z M436.3,267.8h2v2.6h-2z M439.4,269.4h2v2.6h-2z M442.9,269.9h2v2.6h-2z M446.3,270.1h2v2.6h-2z M449.4,271.1h2v2.6h-2z M451.8,273.6h2v2.6h-2z M455.0,274.9h2v2.6h-2z M457.8,276.9h2v2.6h-2z M460.3,279.4h2v2.6h-2z M463.0,281.4h2v2.6h-2z M466.2,282.6h2v2.6h-2z M467.8,285.7h2v2.6h-2z M471.1,286.0h2v2.6h-2z M474.6,286.0h2v2.6h-2z M478.1,286.0h2v2.6h-2z M481.6,286.0h2v2.6h-2z" fill="#111"/>
<text x="447.70" y="242.70" font-size="11.6" font-style="italic" fill="#111" stroke="#111" stroke-width="0.25">IGF-1R<tspan font-size="7" dy="-4">absent</tspan></text>
<text x="447.70" y="302.30" font-size="11.6" font-style="italic" fill="#111" stroke="#111" stroke-width="0.25">IGF-1R<tspan font-size="7" dy="-4">present</tspan></text>
<line x1="333.90" y1="393.70" x2="517.90" y2="393.70" stroke="#8c8c8c" stroke-width="1.5"/>
<line x1="517.30" y1="393.70" x2="517.30" y2="548.70" stroke="#979797" stroke-width="1.6"/>
<line x1="333.90" y1="548.70" x2="517.90" y2="548.70" stroke="#6a6a6a" stroke-width="1.4"/>
<line x1="334.50" y1="393.10" x2="334.50" y2="549.30" stroke="#505050" stroke-width="1.3"/>
<line x1="329.00" y1="541.00" x2="334.50" y2="541.00" stroke="#333" stroke-width="1.4"/>
<text transform="translate(328.00,544.00) scale(0.9,1)" font-size="8.6" text-anchor="end" fill="#2a2a2a" stroke="#2a2a2a" stroke-width="0.25">0,0</text>
<line x1="329.00" y1="513.04" x2="334.50" y2="513.04" stroke="#333" stroke-width="1.4"/>
<text transform="translate(328.00,516.04) scale(0.9,1)" font-size="8.6" text-anchor="end" fill="#2a2a2a" stroke="#2a2a2a" stroke-width="0.25">0,2</text>
<line x1="329.00" y1="485.08" x2="334.50" y2="485.08" stroke="#333" stroke-width="1.4"/>
<text transform="translate(328.00,488.08) scale(0.9,1)" font-size="8.6" text-anchor="end" fill="#2a2a2a" stroke="#2a2a2a" stroke-width="0.25">0,4</text>
<line x1="329.00" y1="457.12" x2="334.50" y2="457.12" stroke="#333" stroke-width="1.4"/>
<text transform="translate(328.00,460.12) scale(0.9,1)" font-size="8.6" text-anchor="end" fill="#2a2a2a" stroke="#2a2a2a" stroke-width="0.25">0,6</text>
<line x1="329.00" y1="429.16" x2="334.50" y2="429.16" stroke="#333" stroke-width="1.4"/>
<text transform="translate(328.00,432.16) scale(0.9,1)" font-size="8.6" text-anchor="end" fill="#2a2a2a" stroke="#2a2a2a" stroke-width="0.25">0,8</text>
<line x1="329.00" y1="401.20" x2="334.50" y2="401.20" stroke="#333" stroke-width="1.4"/>
<text transform="translate(328.00,404.20) scale(0.9,1)" font-size="8.6" text-anchor="end" fill="#2a2a2a" stroke="#2a2a2a" stroke-width="0.25">1,0</text>
<line x1="344.00" y1="548.70" x2="344.00" y2="554.20" stroke="#333" stroke-width="1.4"/>
<text transform="translate(344.00,562.72) scale(0.9,1)" font-size="8.6" text-anchor="middle" fill="#2a2a2a" stroke="#2a2a2a" stroke-width="0.25">0</text>
<line x1="371.33" y1="548.70" x2="371.33" y2="554.20" stroke="#333" stroke-width="1.4"/>
<text transform="translate(371.33,562.72) scale(0.9,1)" font-size="8.6" text-anchor="middle" fill="#2a2a2a" stroke="#2a2a2a" stroke-width="0.25">500</text>
<line x1="398.67" y1="548.70" x2="398.67" y2="554.20" stroke="#333" stroke-width="1.4"/>
<text transform="translate(398.67,562.72) scale(0.9,1)" font-size="8.6" text-anchor="middle" fill="#2a2a2a" stroke="#2a2a2a" stroke-width="0.25">1000</text>
<line x1="426.00" y1="548.70" x2="426.00" y2="554.20" stroke="#333" stroke-width="1.4"/>
<text transform="translate(426.00,562.72) scale(0.9,1)" font-size="8.6" text-anchor="middle" fill="#2a2a2a" stroke="#2a2a2a" stroke-width="0.25">1500</text>
<line x1="453.33" y1="548.70" x2="453.33" y2="554.20" stroke="#333" stroke-width="1.4"/>
<text transform="translate(453.33,562.72) scale(0.9,1)" font-size="8.6" text-anchor="middle" fill="#2a2a2a" stroke="#2a2a2a" stroke-width="0.25">2000</text>
<line x1="480.67" y1="548.70" x2="480.67" y2="554.20" stroke="#333" stroke-width="1.4"/>
<text transform="translate(480.67,562.72) scale(0.9,1)" font-size="8.6" text-anchor="middle" fill="#2a2a2a" stroke="#2a2a2a" stroke-width="0.25">2500</text>
<line x1="508.00" y1="548.70" x2="508.00" y2="554.20" stroke="#333" stroke-width="1.4"/>
<text transform="translate(508.00,562.72) scale(0.9,1)" font-size="8.6" text-anchor="middle" fill="#2a2a2a" stroke="#2a2a2a" stroke-width="0.25">3000</text>
<text x="425.90" y="574.80" font-size="9" font-weight="bold" text-anchor="middle" fill="#000">Days</text>
<text transform="translate(312.50,471.80) rotate(-90)" x="0" y="0" font-size="9.2" font-weight="bold" text-anchor="middle" fill="#000">Overall Survival</text>
<text x="513.70" y="412.39" font-size="12" font-weight="bold" text-anchor="end" fill="#000"><tspan font-style="italic">P</tspan> = .05</text>
<path d="M344.7,402.7 L351.4,405.6 L359.1,408.5 L366.8,410.4 L374.5,411.3 L387.0,411.3 L388.9,414.2 L392.7,415.2 L401.4,415.2 L405.4,415.5 L406.0,417.7 L412.8,418.2 L413.5,420.9 L424.9,420.9 L425.6,425.3 L458.5,425.3" fill="none" stroke="#808080" stroke-width="1.4" stroke-linejoin="round"/>
<path d="M348.4,402.7v3.2 M352.1,404.2v3.2 M355.8,405.7v3.2 M359.6,407.0v3.2 M363.4,408.0v3.2 M367.3,408.9v3.2 M371.3,409.3v3.2 M375.3,409.7v3.2 M379.3,409.7v3.2 M383.3,409.7v3.2 M387.2,409.9v3.2 M389.7,412.8v3.2 M393.6,413.6v3.2 M397.6,413.6v3.2 M401.6,413.6v3.2 M405.4,414.1v3.2 M407.9,416.2v3.2 M411.9,416.5v3.2 M413.8,419.3v3.2 M417.8,419.3v3.2 M421.8,419.3v3.2 M425.0,420.2v3.2 M426.0,423.7v3.2 M430.0,423.7v3.2 M434.0,423.7v3.2 M438.0,423.7v3.2 M442.0,423.7v3.2 M446.0,423.7v3.2 M450.0,423.7v3.2 M454.0,423.7v3.2 M458.0,423.7v3.2" stroke="#808080" stroke-width="1.1" fill="none"/>
<path d="M344.7,402.7 L349.5,406.5 L355.2,409.4 L361.0,412.3 L366.8,413.3 L372.5,413.3 L376.4,416.2 L381.2,419.0 L384.1,423.8 L387.9,425.8 L392.7,427.7 L396.6,430.6 L400.4,434.4 L412.8,434.7 L413.5,438.4 L427.6,438.4 L428.3,443.7 L435.7,444.1 L436.3,452.8 L462.0,452.8" fill="none" stroke="#111" stroke-width="1.3" stroke-linejoin="round"/>
<path d="M346.4,403.6h2v2.6h-2z M349.3,405.6h2v2.6h-2z M352.4,407.2h2v2.6h-2z M355.5,408.8h2v2.6h-2z M358.7,410.3h2v2.6h-2z M362.0,411.3h2v2.6h-2z M365.4,411.9h2v2.6h-2z M368.9,412.0h2v2.6h-2z M372.2,412.5h2v2.6h-2z M375.0,414.6h2v2.6h-2z M378.0,416.4h2v2.6h-2z M380.7,418.6h2v2.6h-2z M382.5,421.5h2v2.6h-2z M385.2,423.6h2v2.6h-2z M388.4,425.1h2v2.6h-2z M391.6,426.4h2v2.6h-2z M394.5,428.4h2v2.6h-2z M397.1,430.8h2v2.6h-2z M399.6,433.1h2v2.6h-2z M403.1,433.2h2v2.6h-2z M406.6,433.3h2v2.6h-2z M410.1,433.4h2v2.6h-2z M412.1,435.2h2v2.6h-2z M414.0,437.1h2v2.6h-2z M417.5,437.1h2v2.6h-2z M421.0,437.1h2v2.6h-2z M424.5,437.1h2v2.6h-2z M426.8,438.5h2v2.6h-2z M427.2,442.0h2v2.6h-2z M430.4,442.6h2v2.6h-2z M433.9,442.8h2v2.6h-2z M434.9,445.5h2v2.6h-2z M435.1,449.0h2v2.6h-2z M436.3,451.5h2v2.6h-2z M439.8,451.5h2v2.6h-2z M443.3,451.5h2v2.6h-2z M446.8,451.5h2v2.6h-2z M450.3,451.5h2v2.6h-2z M453.8,451.5h2v2.6h-2z M457.3,451.5h2v2.6h-2z M460.8,451.5h2v2.6h-2z" fill="#111"/>
<text x="467.90" y="429.20" font-size="11.6" font-style="italic" fill="#111" stroke="#111" stroke-width="0.25">IL-6R<tspan font-size="7" dy="-4">low</tspan></text>
<text x="465.00" y="457.10" font-size="11.6" font-style="italic" fill="#111" stroke="#111" stroke-width="0.25">IL-6R<tspan font-size="7" dy="-4">high</tspan></text>
<line x1="333.90" y1="588.50" x2="518.10" y2="588.50" stroke="#8c8c8c" stroke-width="1.5"/>
<line x1="517.50" y1="588.50" x2="517.50" y2="743.40" stroke="#979797" stroke-width="1.6"/>
<line x1="333.90" y1="743.40" x2="518.10" y2="743.40" stroke="#6a6a6a" stroke-width="1.4"/>
<line x1="334.50" y1="587.90" x2="334.50" y2="744.00" stroke="#505050" stroke-width="1.3"/>
<line x1="329.00" y1="735.80" x2="334.50" y2="735.80" stroke="#333" stroke-width="1.4"/>
<text transform="translate(328.00,738.80) scale(0.9,1)" font-size="8.6" text-anchor="end" fill="#2a2a2a" stroke="#2a2a2a" stroke-width="0.25">0,0</text>
<line x1="329.00" y1="707.84" x2="334.50" y2="707.84" stroke="#333" stroke-width="1.4"/>
<text transform="translate(328.00,710.84) scale(0.9,1)" font-size="8.6" text-anchor="end" fill="#2a2a2a" stroke="#2a2a2a" stroke-width="0.25">0,2</text>
<line x1="329.00" y1="679.88" x2="334.50" y2="679.88" stroke="#333" stroke-width="1.4"/>
<text transform="translate(328.00,682.88) scale(0.9,1)" font-size="8.6" text-anchor="end" fill="#2a2a2a" stroke="#2a2a2a" stroke-width="0.25">0,4</text>
<line x1="329.00" y1="651.92" x2="334.50" y2="651.92" stroke="#333" stroke-width="1.4"/>
<text transform="translate(328.00,654.92) scale(0.9,1)" font-size="8.6" text-anchor="end" fill="#2a2a2a" stroke="#2a2a2a" stroke-width="0.25">0,6</text>
<line x1="329.00" y1="623.96" x2="334.50" y2="623.96" stroke="#333" stroke-width="1.4"/>
<text transform="translate(328.00,626.96) scale(0.9,1)" font-size="8.6" text-anchor="end" fill="#2a2a2a" stroke="#2a2a2a" stroke-width="0.25">0,8</text>
<line x1="329.00" y1="596.00" x2="334.50" y2="596.00" stroke="#333" stroke-width="1.4"/>
<text transform="translate(328.00,599.00) scale(0.9,1)" font-size="8.6" text-anchor="end" fill="#2a2a2a" stroke="#2a2a2a" stroke-width="0.25">1,0</text>
<line x1="344.00" y1="743.40" x2="344.00" y2="748.90" stroke="#333" stroke-width="1.4"/>
<text transform="translate(344.00,757.58) scale(0.9,1)" font-size="8.6" text-anchor="middle" fill="#2a2a2a" stroke="#2a2a2a" stroke-width="0.25">0</text>
<line x1="371.33" y1="743.40" x2="371.33" y2="748.90" stroke="#333" stroke-width="1.4"/>
<text transform="translate(371.33,757.58) scale(0.9,1)" font-size="8.6" text-anchor="middle" fill="#2a2a2a" stroke="#2a2a2a" stroke-width="0.25">500</text>
<line x1="398.67" y1="743.40" x2="398.67" y2="748.90" stroke="#333" stroke-width="1.4"/>
<text transform="translate(398.67,757.58) scale(0.9,1)" font-size="8.6" text-anchor="middle" fill="#2a2a2a" stroke="#2a2a2a" stroke-width="0.25">1000</text>
<line x1="426.00" y1="743.40" x2="426.00" y2="748.90" stroke="#333" stroke-width="1.4"/>
<text transform="translate(426.00,757.58) scale(0.9,1)" font-size="8.6" text-anchor="middle" fill="#2a2a2a" stroke="#2a2a2a" stroke-width="0.25">1500</text>
<line x1="453.33" y1="743.40" x2="453.33" y2="748.90" stroke="#333" stroke-width="1.4"/>
<text transform="translate(453.33,757.58) scale(0.9,1)" font-size="8.6" text-anchor="middle" fill="#2a2a2a" stroke="#2a2a2a" stroke-width="0.25">2000</text>
<line x1="480.67" y1="743.40" x2="480.67" y2="748.90" stroke="#333" stroke-width="1.4"/>
<text transform="translate(480.67,757.58) scale(0.9,1)" font-size="8.6" text-anchor="middle" fill="#2a2a2a" stroke="#2a2a2a" stroke-width="0.25">2500</text>
<line x1="508.00" y1="743.40" x2="508.00" y2="748.90" stroke="#333" stroke-width="1.4"/>
<text transform="translate(508.00,757.58) scale(0.9,1)" font-size="8.6" text-anchor="middle" fill="#2a2a2a" stroke="#2a2a2a" stroke-width="0.25">3000</text>
<text x="426.00" y="769.70" font-size="9" font-weight="bold" text-anchor="middle" fill="#000">Days</text>
<text transform="translate(312.50,666.55) rotate(-90)" x="0" y="0" font-size="9.2" font-weight="bold" text-anchor="middle" fill="#000">Overall Survival</text>
<text x="513.70" y="607.39" font-size="12" font-weight="bold" text-anchor="end" fill="#000"><tspan font-style="italic">P</tspan> = .008</text>
<path d="M344.7,596.7 L353.3,600.6 L361.0,603.5 L368.7,604.4 L374.5,608.3 L382.2,611.2 L389.8,614.0 L397.5,617.9 L405.2,619.8 L411.0,621.7 L416.0,623.5 L421.8,625.4 L427.5,627.3 L431.4,629.2 L437.2,632.1 L441.0,634.6 L452.5,635.0 L453.5,639.8 L460.2,640.4 L461.2,644.2 L487.2,644.2" fill="none" stroke="#808080" stroke-width="1.4" stroke-linejoin="round"/>
<path d="M400.1,616.9v3.2 M403.9,617.9v3.2 M407.8,619.0v3.2 M411.6,620.3v3.2 M415.3,621.7v3.2 M419.1,622.9v3.2 M422.9,624.2v3.2 M426.7,625.4v3.2 M430.3,627.1v3.2 M433.9,628.9v3.2 M437.5,630.7v3.2 M440.8,632.9v3.2 M444.8,633.1v3.2 M448.8,633.3v3.2 M452.6,633.7v3.2 M453.4,637.6v3.2 M456.9,638.5v3.2 M460.4,639.4v3.2 M461.9,642.6v3.2 M465.9,642.6v3.2 M469.9,642.6v3.2 M473.9,642.6v3.2 M477.9,642.6v3.2 M481.9,642.6v3.2 M485.9,642.6v3.2" stroke="#808080" stroke-width="1.1" fill="none"/>
<path d="M344.7,596.7 L351.4,600.6 L358.1,605.4 L364.8,612.7 L372.5,616.0 L380.2,618.8 L386.0,622.7 L391.8,626.5 L397.5,629.4 L403.3,630.4 L409.1,635.2 L414.8,639.0 L421.8,640.8 L427.5,642.7 L433.3,644.2 L435.2,649.4 L439.1,654.2 L444.8,656.2 L450.6,658.1 L454.2,660.4 L460.6,661.0 L464.0,664.4 L469.2,664.4 L469.8,670.8 L486.5,670.8" fill="none" stroke="#111" stroke-width="1.3" stroke-linejoin="round"/>
<path d="M396.7,628.1h2v2.6h-2z M400.2,628.7h2v2.6h-2z M403.3,629.9h2v2.6h-2z M406.0,632.2h2v2.6h-2z M408.8,634.3h2v2.6h-2z M411.7,636.3h2v2.6h-2z M414.7,637.9h2v2.6h-2z M418.1,638.8h2v2.6h-2z M421.5,639.7h2v2.6h-2z M424.8,640.8h2v2.6h-2z M428.2,641.8h2v2.6h-2z M431.5,642.7h2v2.6h-2z M433.2,645.5h2v2.6h-2z M434.6,648.6h2v2.6h-2z M436.8,651.3h2v2.6h-2z M439.5,653.4h2v2.6h-2z M442.8,654.6h2v2.6h-2z M446.1,655.7h2v2.6h-2z M449.5,656.8h2v2.6h-2z M452.4,658.6h2v2.6h-2z M455.8,659.3h2v2.6h-2z M459.3,659.7h2v2.6h-2z M461.8,661.9h2v2.6h-2z M464.8,663.1h2v2.6h-2z M468.2,663.2h2v2.6h-2z M468.5,666.7h2v2.6h-2z M469.5,669.5h2v2.6h-2z M473.0,669.5h2v2.6h-2z M476.5,669.5h2v2.6h-2z M480.0,669.5h2v2.6h-2z M483.5,669.5h2v2.6h-2z" fill="#111"/>
<text x="472.20" y="639.20" font-size="11.6" font-style="italic" fill="#111" stroke="#111" stroke-width="0.25">IL-6R<tspan font-size="7" dy="-4">low</tspan></text>
<text x="471.80" y="684.00" font-size="11.6" font-style="italic" fill="#111" stroke="#111" stroke-width="0.25">IL-6R<tspan font-size="7" dy="-4">high</tspan></text>
<text x="8.05" y="33.04" font-size="13.8" font-weight="bold" text-anchor="middle" fill="#000">A</text>
<text x="8.45" y="230.84" font-size="13.8" font-weight="bold" text-anchor="middle" fill="#000">B</text>
<text x="7.10" y="421.64" font-size="13.8" font-weight="bold" text-anchor="middle" fill="#000">E</text>
<text x="5.60" y="621.14" font-size="13.8" font-weight="bold" text-anchor="middle" fill="#000">F</text>
<text x="302.45" y="32.74" font-size="13.8" font-weight="bold" text-anchor="middle" fill="#000">C</text>
<text x="303.35" y="230.99" font-size="13.8" font-weight="bold" text-anchor="middle" fill="#000">D</text>
<text x="303.10" y="422.04" font-size="13.8" font-weight="bold" text-anchor="middle" fill="#000">G</text>
<text x="303.75" y="621.29" font-size="13.8" font-weight="bold" text-anchor="middle" fill="#000">H</text>
<text x="248.70" y="15.05" font-size="18.5" font-weight="bold" font-style="italic" fill="#000">IGF-1R</text>
<text x="258.00" y="86.82" font-size="14" font-weight="bold" fill="#000">HM</text>
<text x="249.30" y="103.52" font-size="14" font-weight="bold" fill="#000">series</text>
<text x="248.10" y="211.95" font-size="18.5" font-weight="bold" font-style="italic" fill="#000">IGF-1R</text>
<text x="244.00" y="284.44" font-size="14.3" font-weight="bold" fill="#000">LR-TT2</text>
<text x="248.80" y="300.42" font-size="14" font-weight="bold" fill="#000">series</text>
<text x="256.10" y="402.45" font-size="18.5" font-weight="bold" font-style="italic" fill="#000">IL-6R</text>
<text x="258.00" y="475.02" font-size="14" font-weight="bold" fill="#000">HM</text>
<text x="249.30" y="491.52" font-size="14" font-weight="bold" fill="#000">series</text>
<text x="255.20" y="598.15" font-size="18.5" font-weight="bold" font-style="italic" fill="#000">IL-6R</text>
<text x="243.60" y="670.64" font-size="14.3" font-weight="bold" fill="#000">LR-TT2</text>
<text x="248.80" y="687.72" font-size="14" font-weight="bold" fill="#000">series</text>
</svg>
</body></html>
